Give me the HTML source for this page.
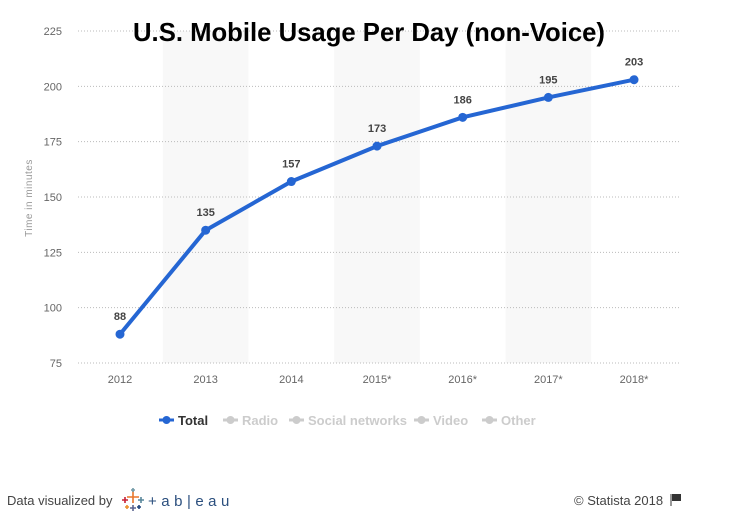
<!DOCTYPE html>
<html><head><meta charset="utf-8"><style>
body{margin:0;background:#fff;}
svg{display:block;font-family:"Liberation Sans",sans-serif;}
</style></head><body>
<svg width="737" height="514" viewBox="0 0 737 514">
<g id="bands"></g>
<g id="grid"></g>
<g id="series"></g>
<text x="369" y="41" text-anchor="middle" font-size="26" font-weight="bold" fill="#000" textLength="472" lengthAdjust="spacingAndGlyphs">U.S. Mobile Usage Per Day (non-Voice)</text>
<text transform="translate(32,198) rotate(-90)" text-anchor="middle" font-size="10" fill="#999" letter-spacing="0.5">Time in minutes</text>
<g font-size="13" font-weight="bold">
 <g><line x1="159" y1="420" x2="174" y2="420" stroke="#2566d3" stroke-width="3"/><circle cx="166.5" cy="420" r="4" fill="#2566d3"/><text x="178" y="425" fill="#333">Total</text></g>
 <g><line x1="223" y1="420" x2="238" y2="420" stroke="#ccc" stroke-width="3"/><circle cx="230.5" cy="420" r="4" fill="#ccc"/><text x="242" y="425" fill="#ccc">Radio</text></g>
 <g><line x1="289" y1="420" x2="304" y2="420" stroke="#ccc" stroke-width="3"/><circle cx="296.5" cy="420" r="4" fill="#ccc"/><text x="308" y="425" fill="#ccc">Social networks</text></g>
 <g><line x1="414" y1="420" x2="429" y2="420" stroke="#ccc" stroke-width="3"/><circle cx="421.5" cy="420" r="4" fill="#ccc"/><text x="433" y="425" fill="#ccc">Video</text></g>
 <g><line x1="482" y1="420" x2="497" y2="420" stroke="#ccc" stroke-width="3"/><circle cx="489.5" cy="420" r="4" fill="#ccc"/><text x="501" y="425" fill="#ccc">Other</text></g>
</g>
<g>
 <text x="7" y="505" font-size="13" fill="#444">Data visualized by</text>
 <g stroke-width="1.6">
  <path d="M133 491v12M127 497h12" stroke="#e8762b"/>
  <path d="M125 497v6M122 500h6" stroke="#c72035"/>
  <path d="M141 497v6M138 500h6" stroke="#59879b"/>
  <path d="M133 505v6M130 508h6" stroke="#5b6591"/>
  <path d="M133 488v4M131 490h4" stroke="#7099a6"/>
  <path d="M127 505v4M125 507h4" stroke="#eb912b"/>
  <path d="M139 505v4M137 507h4" stroke="#1f457e"/>
 </g>
 <text x="148" y="506" font-size="15" fill="#2b4f7e" letter-spacing="4.5">+ab|eau</text>
</g>
<text x="574" y="505" font-size="13" fill="#444">© Statista 2018</text>
<g><line x1="671" y1="494" x2="671" y2="506" stroke="#333"/><path d="M672 494h9v7h-9z" fill="#333"/></g>
</svg>
<script>
const categories=["2012","2013","2014","2015*","2016*","2017*","2018*"];
const values=[88,135,157,173,186,195,203];
const yTicks=[75,100,125,150,175,200,225];
const NS="http://www.w3.org/2000/svg";
const x0=120,step=85.67,y0=363,yMin=75,ppu=332/150;
const xs=i=>x0+i*step, ys=v=>y0-(v-yMin)*ppu;
function mk(t,a,p){const e=document.createElementNS(NS,t);for(const k in a)e.setAttribute(k,a[k]);p.appendChild(e);return e;}
const bands=document.getElementById('bands'),grid=document.getElementById('grid'),ser=document.getElementById('series');
categories.forEach((c,i)=>{
 if(i%2===1){const r=mk('rect',{x:xs(i)-step/2,y:ys(225),width:step,height:ys(75)-ys(225),fill:'#f8f8f8'},bands);
 
 }
 const t=mk('text',{x:xs(i),y:383,'text-anchor':'middle','font-size':11,fill:'#666'},grid);t.textContent=c;
 
 
});
yTicks.forEach(v=>{
 const l=mk('line',{x1:78,x2:679,y1:ys(v),y2:ys(v),stroke:'#bbb','stroke-dasharray':'1,2','stroke-width':1},grid);
 
 
 const t=mk('text',{x:62,y:ys(v)+4,'text-anchor':'end','font-size':11,fill:'#666'},grid);t.textContent=v;
 
 
});
const p=mk('polyline',{points:values.map((v,i)=>xs(i)+','+ys(v)).join(' '),fill:'none',stroke:'#2566d3','stroke-width':4,'stroke-linejoin':'round'},ser);


values.forEach((v,i)=>{
 const c=mk('circle',{cx:xs(i),cy:ys(v),r:4.5,fill:'#2566d3'},ser);
 
 
 const t=mk('text',{x:xs(i),y:ys(v)-14,'text-anchor':'middle','font-size':11,'font-weight':'bold',fill:'#444'},ser);t.textContent=v;
 
 
});
</script>
</body></html>
